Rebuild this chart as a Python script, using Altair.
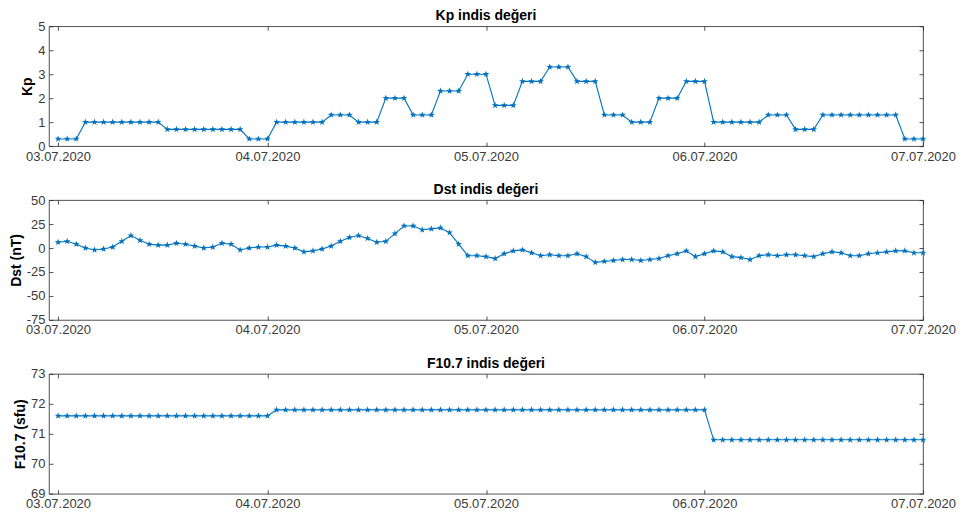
import altair as alt
import pandas as pd

# ---- data ----
hours = list(range(1, 97))  # hourly samples, 03.07.2020 - 06.07.2020

# Kp (3-hourly values)
kp_3h = [0.3, 1.0, 1.0, 1.0, 0.7, 0.7, 0.7, 0.3,
         1.0, 1.0, 1.3, 1.0, 2.0, 1.3, 2.3, 3.0,
         1.7, 2.7, 3.3, 2.7, 1.3, 1.0, 2.0, 2.7,
         1.0, 1.0, 1.3, 0.7, 1.3, 1.3, 1.3, 0.3]

# Dst (hourly, nT)
dst = [6, 7, 4, 0, -2, -1, 1, 7, 13, 8, 4, 3, 3, 5, 4, 2, 0, 1, 5, 4, -2, 0, 1, 1,
       3, 2, 0, -4, -3, -1, 2, 7, 11, 13, 10, 6, 7, 15, 23, 23, 19, 20, 21, 16, 4, -8, -8, -9,
       -11, -6, -3, -2, -5, -8, -7, -8, -8, -6, -9, -15, -14, -13, -12, -12, -13, -12, -11, -8, -6, -3, -9, -6,
       -3, -4, -9, -10, -12, -8, -7, -8, -7, -7, -8, -9, -6, -4, -5, -8, -8, -6, -5, -4, -3, -3, -5, -5]

# F10.7 (daily, sfu)
f107_daily = [71.6, 71.8, 71.8, 70.8]

tick_pos = [1, 24, 48, 72, 96]
tick_lbl = ["03.07.2020", "04.07.2020", "05.07.2020", "06.07.2020", "07.07.2020"]

kp = [v for v in kp_3h for _ in range(3)]
f107 = [v for v in f107_daily for _ in range(24)]

df = pd.DataFrame({"h": hours, "kp": kp, "dst": dst, "f107": f107})

label_expr = " : ".join(
    f"datum.value == {p} ? '{l}'" for p, l in zip(tick_pos, tick_lbl)
) + " : ''"

BLUE = "#0072BD"
FONT = "Liberation Sans"
AX = "#262626"
LAB = "#3a3a3a"
STAR = ("M0,-1L0.2351,-0.3236L0.9511,-0.309L0.3804,0.1236L0.5878,0.809L0,0.4"
        "L-0.5878,0.809L-0.3804,0.1236L-0.9511,-0.309L-0.2351,-0.3236Z")

W, H = 875, 120


def common_axis(**kw):
    base = dict(offset=-4, tickSize=4, domain=False, grid=False,
                tickColor=AX, tickWidth=0.8, labelFont=FONT, labelFontSize=13,
                labelColor=LAB, titleFont=FONT, titleColor="#000000",
                titleFontSize=14, titleFontWeight="bold")
    base.update(kw)
    return alt.Axis(**base)


def panel(field, title, ytitle, ydom, yticks):
    xs = alt.Scale(domain=[0, 96], nice=False, zero=False)
    ys = alt.Scale(domain=ydom, nice=False, zero=False)
    x_bot = alt.X("h:Q", scale=xs, axis=common_axis(
        orient="bottom", values=tick_pos, labelExpr=label_expr, title=None,
        labelPadding=4, labelFlush=False, labelOverlap=False))
    y_left = alt.Y(f"{field}:Q", scale=ys, axis=common_axis(
        orient="left", values=yticks, title=ytitle, labelPadding=4,
        titlePadding=3, format="d",
        labelExpr="replace(datum.label, '\u2212', '-')"))
    x_top = alt.X("h:Q", scale=xs, axis=common_axis(
        orient="top", values=tick_pos, labels=False, title=None,
        minExtent=0, maxExtent=0))
    y_right = alt.Y(f"{field}:Q", scale=ys, axis=common_axis(
        orient="right", values=yticks, labels=False, title=None,
        minExtent=0, maxExtent=0))
    line = alt.Chart(df).mark_line(color=BLUE, strokeWidth=1.1).encode(x=x_bot, y=y_left)
    pts = alt.Chart(df).mark_point(shape=STAR, filled=True, size=50,
                                   color=BLUE, opacity=1).encode(x=x_top, y=y_right)
    return alt.layer(line, pts).resolve_axis(x="independent", y="independent").properties(
        width=W, height=H,
        title=alt.TitleParams(title, font=FONT, fontSize=14, fontWeight="bold",
                              color="#000000", offset=-3))


p1 = panel("kp", "Kp indis değeri", "Kp", [0, 5], [0, 1, 2, 3, 4, 5])
p2 = panel("dst", "Dst indis değeri", "Dst (nT)", [-75, 50], [-75, -50, -25, 0, 25, 50])
p3 = panel("f107", "F10.7 indis değeri", "F10.7 (sfu)", [69, 73], [69, 70, 71, 72, 73])

chart = alt.vconcat(p1, p2, p3, spacing=18).properties(
    padding={"left": 0, "top": 0, "right": 0, "bottom": 0},
    background="white",
).configure_view(stroke=AX, strokeWidth=0.8)

chart.save("out.html", embed_options={"renderer": "svg", "actions": False})
